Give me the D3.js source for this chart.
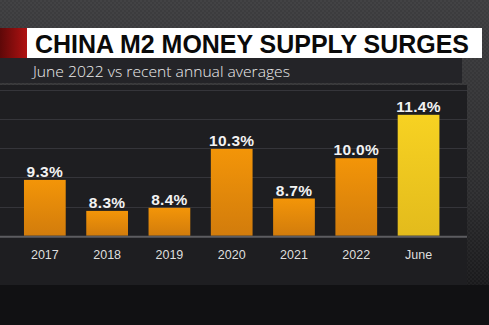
<!DOCTYPE html>
<html>
<head>
<meta charset="utf-8">
<script src="https://cdn.jsdelivr.net/npm/d3@7"></script>
<style>
    body { margin: 0; background: #101011; }
    svg { display: block; }
</style>
</head>
<body>
<script>
const width = 489;
const height = 325;

// Chart data
const years = ["2017", "2018", "2019", "2020", "2021", "2022", "June"];
const growth = [9.3, 8.3, 8.4, 10.3, 8.7, 10.0, 11.4];
const gridValues = [8.44, 9.38, 10.32, 11.26, 12.2];

const titleText = "CHINA M2 MONEY SUPPLY SURGES";
const subtitleText = "June 2022 vs recent annual averages";

let margin = { top: 90, right: 22, bottom: 89, left: 0 };
let panelRight = 467;

let svg = d3
    .select("body")
    .append("svg")
    .attr("width", width)
    .attr("height", height);

let defs = svg.append("defs");

// backdrop gradient + faint checker texture
let bg = defs.append("linearGradient")
    .attr("id", "bg")
    .attr("x1", 0).attr("y1", 0).attr("x2", 0).attr("y2", 1);
bg.append("stop").attr("offset", "0%").attr("stop-color", "#3d3d3f");
bg.append("stop").attr("offset", "60%").attr("stop-color", "#2c2c2e");
bg.append("stop").attr("offset", "87%").attr("stop-color", "#1a1a1c");
bg.append("stop").attr("offset", "100%").attr("stop-color", "#0e0e0f");

let tex = defs.append("pattern")
    .attr("id", "tex")
    .attr("width", 4).attr("height", 4)
    .attr("patternUnits", "userSpaceOnUse");
tex.append("rect").attr("width", 2).attr("height", 2).attr("fill", "#fff").attr("opacity", 0.03);
tex.append("rect").attr("x", 2).attr("y", 2).attr("width", 2).attr("height", 2).attr("fill", "#fff").attr("opacity", 0.03);

let red = defs.append("linearGradient").attr("id", "red");
red.append("stop").attr("offset", "0%").attr("stop-color", "#5e0808");
red.append("stop").attr("offset", "100%").attr("stop-color", "#b01212");

function barGradient(id, top, bottom) {
    let g = defs.append("linearGradient")
        .attr("id", id)
        .attr("x1", 0).attr("y1", 0).attr("x2", 0).attr("y2", 1);
    g.append("stop").attr("offset", "0%").attr("stop-color", top);
    g.append("stop").attr("offset", "100%").attr("stop-color", bottom);
}
barGradient("orange", "#f39508", "#d27c0c");
barGradient("yellow", "#f7d222", "#e3bb1c");

svg.append("rect").attr("width", width).attr("height", height).attr("fill", "url(#bg)");
svg.append("rect").attr("width", width).attr("height", 285).attr("fill", "url(#tex)");
svg.append("rect").attr("y", 285).attr("width", width).attr("height", height - 285).attr("fill", "#111113");

// chart panel and subtitle band
svg.append("rect")
    .attr("x", 0).attr("y", 85)
    .attr("width", panelRight).attr("height", 200)
    .attr("fill", "#1e1e21");

svg.append("rect")
    .attr("x", 0).attr("y", 58)
    .attr("width", 462).attr("height", 25)
    .attr("fill", "#242428");

// title bar
svg.append("rect")
    .attr("x", 0).attr("y", 28)
    .attr("width", 27).attr("height", 30)
    .attr("fill", "url(#red)");

svg.append("rect")
    .attr("x", 27).attr("y", 28)
    .attr("width", 455).attr("height", 30)
    .attr("fill", "#ffffff");

svg.append("text")
    .text(titleText)
    .attr("x", 35)
    .attr("y", 52.5)
    .attr("textLength", 434)
    .attr("lengthAdjust", "spacingAndGlyphs")
    .style("font-family", "'Liberation Sans', Arial, sans-serif")
    .style("font-weight", "bold")
    .style("font-size", "26px")
    .attr("fill", "#0a0a0a");

svg.append("text")
    .text(subtitleText)
    .attr("x", 33)
    .attr("y", 77)
    .attr("textLength", 257)
    .attr("lengthAdjust", "spacingAndGlyphs")
    .style("font-family", "'Open Sans', 'Liberation Sans', sans-serif")
    .style("font-weight", 300)
    .style("font-size", "15px")
    .attr("fill", "#ececec");

// scales
let xScale = d3.scaleBand()
    .domain(years)
    .range([13.7, 449.7])
    .paddingInner(0.33)
    .paddingOuter(0.165);

let yScale = d3.scaleLinear()
    .domain([7.5, 12.2])
    .range([height - margin.bottom - 0.3, margin.top]);

// gridlines
svg.append("g")
    .selectAll("line")
    .data(gridValues)
    .join("line")
    .attr("x1", 0)
    .attr("x2", panelRight)
    .attr("y1", d => Math.round(yScale(d)) + 0.5)
    .attr("y2", d => Math.round(yScale(d)) + 0.5)
    .attr("stroke", "#35353a")
    .attr("stroke-width", 1);

// bars
svg.append("g")
    .selectAll("rect")
    .data(growth)
    .join("rect")
    .attr("x", (d, i) => xScale(years[i]))
    .attr("y", d => yScale(d))
    .attr("width", xScale.bandwidth())
    .attr("height", d => yScale(7.5) - yScale(d))
    .attr("fill", (d, i) => years[i] === "June" ? "url(#yellow)" : "url(#orange)");

// value labels
svg.append("g")
    .selectAll("text")
    .data(growth)
    .join("text")
    .text(d => d.toFixed(1) + "%")
    .attr("x", (d, i) => xScale(years[i]) + xScale.bandwidth() / 2)
    .attr("y", d => yScale(d) - 3)
    .attr("text-anchor", "middle")
    .style("font-family", "'Liberation Sans', Arial, sans-serif")
    .style("font-weight", "bold")
    .style("font-size", "15.5px")
    .style("letter-spacing", "0.3px")
    .attr("fill", "#f2f2f2");

// bottom axis
let bottomAxis = d3.axisBottom(xScale)
    .tickSize(0)
    .tickPadding(14);

let bottomContainer = svg.append("g")
    .attr("transform", `translate(0, ${yScale(7.5)})`)
    .call(bottomAxis);

bottomContainer.select(".domain").remove();
bottomContainer.selectAll("text")
    .style("font-family", "'Liberation Sans', Arial, sans-serif")
    .style("font-size", "12.5px")
    .attr("fill", "#dedede");

svg.append("line")
    .attr("x1", 0)
    .attr("x2", panelRight)
    .attr("y1", yScale(7.5) + 1)
    .attr("y2", yScale(7.5) + 1)
    .attr("stroke", "#5c5c60")
    .attr("stroke-width", 2);
</script>
</body>
</html>
